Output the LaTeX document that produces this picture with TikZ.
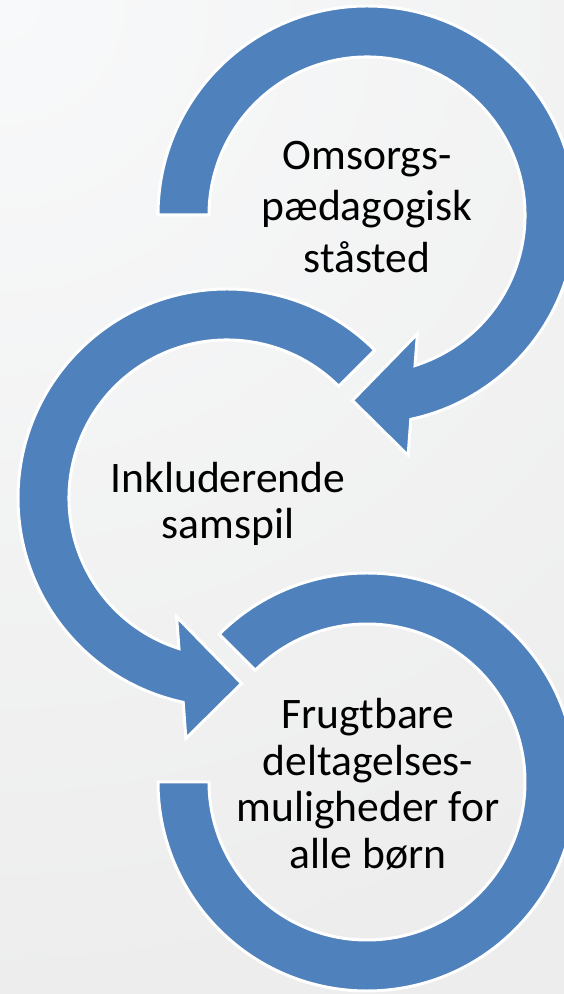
\documentclass[tikz,border=0pt]{standalone}
\usepackage{fontspec}
\setmainfont{Carlito}
\usetikzlibrary{calc}
\definecolor{ringblue}{HTML}{4F81BD}
\definecolor{bggray}{HTML}{EDEDED}
\definecolor{bgwhite}{HTML}{F8F9FA}
\tikzset{
  ring/.style={fill=ringblue,draw=white,line width=1.7pt},
  ringtext/.style={align=center,font=\fontsize{24.8}{26.5}\selectfont}
}
\begin{document}
\begin{tikzpicture}[x=0.02cm,y=0.02cm]
\useasboundingbox (0,0) rectangle (564,994);
\fill[bggray] (0,0) rectangle (564,994);
\begin{scope}
  \clip (0,0) rectangle (564,994);
  \shade[inner color=bgwhite,outer color=bggray] (0,994) circle (1000);
\end{scope}
\coordinate (c1) at (367,779);
\coordinate (c2) at (227,496);
\coordinate (c3) at (367,212);
% top ring, clockwise with head at the bottom
\draw[ring] ($(c1)+(180:209)$) arc (180:-77.9:209) -- ($(c1)+(-80.3:244)$)
  -- ($(c1)+(-94.5:186)$) -- ($(c1)+(-67:129)$) -- ($(c1)+(-72.3:158)$)
  arc (-72.3:180:158) -- cycle;
% middle ring, counter-clockwise
\draw[ring] ($(c2)+(45:209)$) arc (45:257.9:209) -- ($(c2)+(260.3:244)$)
  -- ($(c2)+(274.5:186)$) -- ($(c2)+(247:129)$) -- ($(c2)+(252.3:158)$)
  arc (252.3:45:158) -- cycle;
% bottom ring, no head
\draw[ring] ($(c3)+(135:209)$) arc (135:-180:209) -- ($(c3)+(180:158)$)
  arc (-180:135:158) -- cycle;
\node[ringtext,font=\fontsize{24.8}{29.5}\selectfont] (t1) at (367,787) {Omsorgs-\\pædagogisk\\ståsted};
\node[ringtext] (t2) at (228,490) {Inkluderende\\samspil};
\node[ringtext] (t3) at (368,210) {Frugtbare\\deltagelses-\\muligheder for\\alle børn};
\end{tikzpicture}
\end{document}
